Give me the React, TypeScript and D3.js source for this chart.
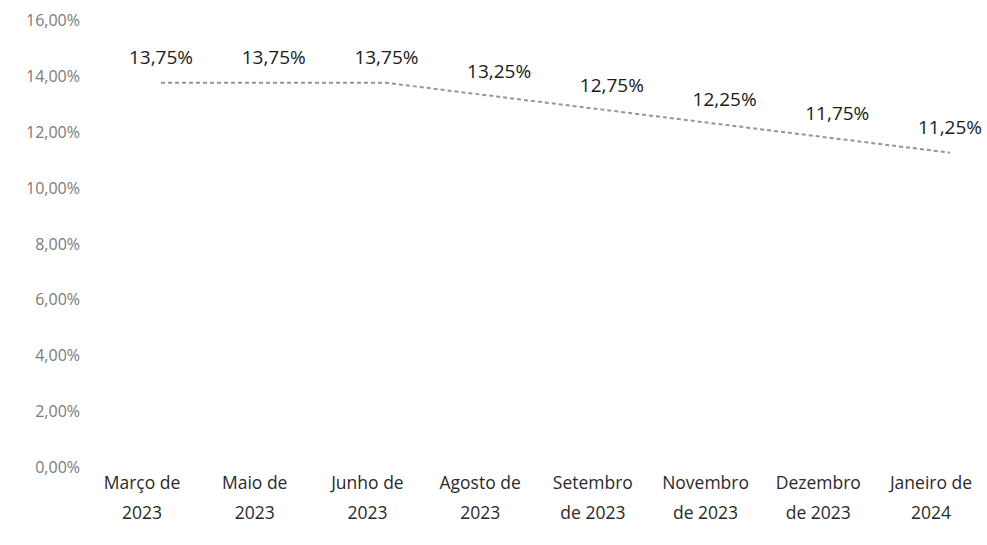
import React from "react";
import * as d3 from "d3";

const categories: string[][] = [
  ["Março de", "2023"],
  ["Maio de", "2023"],
  ["Junho de", "2023"],
  ["Agosto de", "2023"],
  ["Setembro", "de 2023"],
  ["Novembro", "de 2023"],
  ["Dezembro", "de 2023"],
  ["Janeiro de", "2024"],
];
const selic: number[] = [13.75, 13.75, 13.75, 13.25, 12.75, 12.25, 11.75, 11.25];
const yTicks: number[] = [0, 2, 4, 6, 8, 10, 12, 14, 16];

const W = 987;
const H = 545;

const fmt = (v: number) => v.toFixed(2).replace(".", ",") + "%";

export default function App() {
  const x = d3
    .scalePoint<number>()
    .domain(d3.range(categories.length))
    .range([161, 950]);
  const y = d3.scaleLinear().domain([0, 16]).range([467, 20]);

  const line = d3
    .line<number>()
    .x((_, i) => x(i) as number)
    .y((d) => y(d));

  const font = "'Open Sans', 'DejaVu Sans', sans-serif";

  return (
    <>
      <style>{`body{margin:0;background:#fff}`}</style>
      <svg width={W} height={H} style={{ display: "block", background: "#fff" }}>
        {/* Y axis labels */}
        {yTicks.map((t) => (
          <text
            key={t}
            x={80}
            y={y(t)}
            textAnchor="end"
            dominantBaseline="central"
            fontFamily={font}
            fontSize={16}
            fill="#7a7a7a"
          >
            {fmt(t)}
          </text>
        ))}

        {/* line */}
        <path
          d={line(selic) || ""}
          fill="none"
          stroke="#6a6a6a"
          strokeWidth={2}
          strokeDasharray="4 3"
          opacity={0.7}
        />

        {/* data labels */}
        {selic.map((v, i) => (
          <text
            key={i}
            x={x(i) as number}
            y={y(v) - 26}
            textAnchor="middle"
            dominantBaseline="central"
            fontFamily={font}
            fontSize={19}
            fill="#1a1a1a"
          >
            {fmt(v)}
          </text>
        ))}

        {/* x labels */}
        {categories.map((c, i) => (
          <text
            key={i}
            textAnchor="middle"
            fontFamily={font}
            fontSize={17.5}
            fill="#2a2a2a"
          >
            {c.map((ln, j) => (
              <tspan key={j} x={(x(i) as number) - 19} y={489 + j * 30}>
                {ln}
              </tspan>
            ))}
          </text>
        ))}
      </svg>
    </>
  );
}
